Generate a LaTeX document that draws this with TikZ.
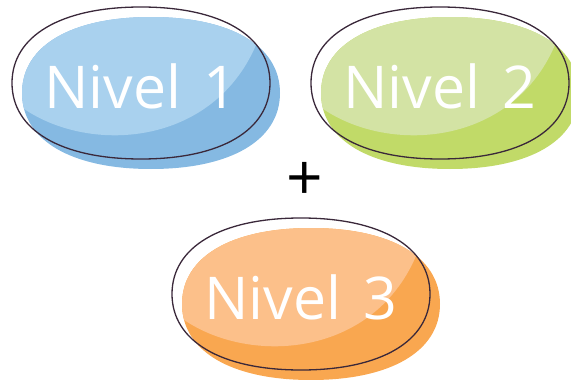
\documentclass[tikz,border=0pt]{standalone}
\usepackage{fontspec}
\setmainfont{Open Sans}
\definecolor{blueL}{RGB}{169,209,238}
\definecolor{blueD}{RGB}{133,185,226}
\definecolor{greenL}{RGB}{211,227,164}
\definecolor{greenD}{RGB}{193,218,104}
\definecolor{orangeL}{RGB}{252,192,138}
\definecolor{orangeD}{RGB}{249,167,80}
\definecolor{rim}{RGB}{58,40,58}
\newcommand{\supell}[4]{% cx cy a b
  (#1+#3,#2) .. controls (#1+#3,#2+0.62*#4) and (#1+0.62*#3,#2+#4) .. (#1,#2+#4)
  .. controls (#1-0.62*#3,#2+#4) and (#1-#3,#2+0.62*#4) .. (#1-#3,#2)
  .. controls (#1-#3,#2-0.62*#4) and (#1-0.62*#3,#2-#4) .. (#1,#2-#4)
  .. controls (#1+0.62*#3,#2-#4) and (#1+#3,#2-0.62*#4) .. (#1+#3,#2) -- cycle}
\newcommand{\blobdraw}[6]{% cx cy light dark name text  (cx,cy = outline centre)
  \fill[#4] \supell{#1+10}{#2+10}{129}{76};
  \begin{scope}
    \clip \supell{#1+10}{#2+10}{129}{76};
    \fill[#3] (#1+10-135,#2+10+10) .. controls (#1+10-70,#2+10+62) and (#1+10+60,#2+10+57) .. (#1+10+105,#2+10-48)
      -- (#1+10+150,#2+10-100) -- (#1+10-150,#2+10-100) -- cycle;
  \end{scope}
  \draw[rim,line width=1.3pt] \supell{#1}{#2}{129}{76};
  \node[txt] (#5) at (#1,#2+3) {#6};
}
\tikzset{txt/.style={text=white,font=\fontsize{59}{59}\selectfont,inner sep=0pt}}
\begin{document}
\begin{tikzpicture}[x=1pt,y=-1pt]
\useasboundingbox (0,0) rectangle (571,380);
\blobdraw{141}{83}{blueL}{blueD}{n1}{Nivel\hspace{7pt} 1}
\blobdraw{440}{83}{greenL}{greenD}{n2}{Nivel\hspace{7pt} 2}
\blobdraw{301}{294}{orangeL}{orangeD}{n3}{Nivel\hspace{7pt} 3}
\node[font=\fontsize{64}{64}\selectfont,inner sep=0pt] (plus) at (305,181) {+};
\end{tikzpicture}
\end{document}
